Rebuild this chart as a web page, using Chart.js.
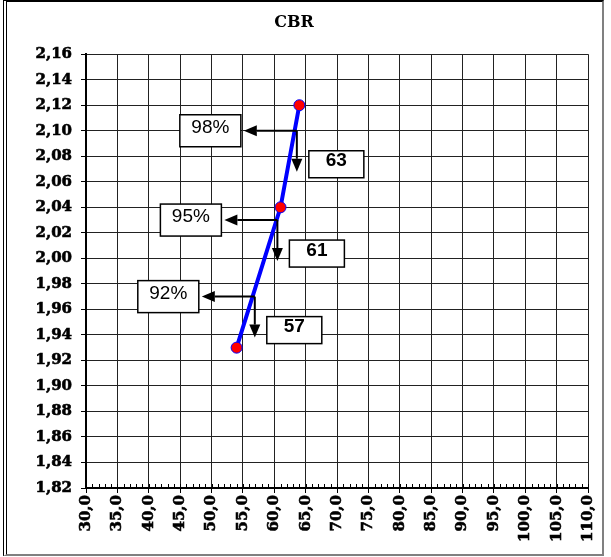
<!DOCTYPE html>
<html>
<head>
<meta charset="utf-8">
<script src="https://cdn.jsdelivr.net/npm/chart.js@4/dist/chart.umd.min.js"></script>
<style>
  body { margin: 0; background: #fff; }
  #frame {
    position: absolute; left: 3px; top: 0; width: 601px; height: 556px;
    box-sizing: border-box; pointer-events: none;
    border-top: 2px solid #000; border-left: 4px double #000;
    border-right: 2px solid #808080; border-bottom: 2px solid #808080;
  }
  #c { position: absolute; left: 0; top: 0; }
</style>
</head>
<body>
<canvas id="c" width="596" height="557"></canvas>
<div id="frame"></div>
<script>
// CBR (x) vs dry density (y)
const cbrValues = [54.0, 61.0, 64.0];
const densityValues = [1.93, 2.04, 2.12];

const xTickValues = [30, 35, 40, 45, 50, 55, 60, 65, 70, 75, 80, 85, 90, 95, 100, 105, 110];
const yTickValues = [1.82, 1.84, 1.86, 1.88, 1.90, 1.92, 1.94, 1.96, 1.98, 2.00,
                     2.02, 2.04, 2.06, 2.08, 2.10, 2.12, 2.14, 2.16];

// compaction levels
const compactionLabels = ['98%', '95%', '92%'];
const compactionDensity = [2.10, 2.03, 1.97];
const curveCbr = [63.6, 60.5, 56.9];
const cbrReadLabels = ['63', '61', '57'];

const fmt = (v, d) => Number(v).toFixed(d).replace('.', ',');
const serif = '"DejaVu Serif", "Liberation Serif", serif';

Chart.defaults.font.family = serif;
Chart.defaults.font.size = 15;
Chart.defaults.font.weight = 'bold';
Chart.defaults.color = '#000';

function arrow(ctx, x1, y1, x2, y2) {
    const ang = Math.atan2(y2 - y1, x2 - x1);
    const len = 13, half = 5.5;
    const bx = x2 - len * Math.cos(ang), by = y2 - len * Math.sin(ang);
    ctx.beginPath();
    ctx.moveTo(x1, y1);
    ctx.lineTo(bx, by);
    ctx.stroke();
    ctx.beginPath();
    ctx.moveTo(x2, y2);
    ctx.lineTo(bx - half * Math.sin(ang), by + half * Math.cos(ang));
    ctx.lineTo(bx + half * Math.sin(ang), by - half * Math.cos(ang));
    ctx.closePath();
    ctx.fill();
}

function box(ctx, left, top, w, h, text, font) {
    ctx.fillStyle = '#fff';
    ctx.strokeStyle = '#000';
    ctx.lineWidth = 1.5;
    ctx.fillRect(left, top, w, h);
    ctx.strokeRect(left, top, w, h);
    ctx.fillStyle = '#000';
    ctx.font = font;
    ctx.textAlign = 'center';
    ctx.textBaseline = 'middle';
    ctx.fillText(text, left + w / 2, top + h / 2 - 3);
}

const extras = {
    id: 'extras',
    afterDatasetsDraw(chart) {
        const { ctx, scales: { x, y } } = chart;
        ctx.save();
        // minor ticks on the x axis
        ctx.strokeStyle = '#000';
        ctx.lineWidth = 1;
        ctx.beginPath();
        for (let v = x.min; v <= x.max; v++) {
            const px = Math.round(x.getPixelForValue(v)) + 0.5;
            ctx.moveTo(px, y.bottom);
            ctx.lineTo(px, y.bottom - 4);
        }
        ctx.stroke();

        compactionLabels.forEach((label, i) => {
            const ax = x.getPixelForValue(curveCbr[i]);
            const ay = y.getPixelForValue(compactionDensity[i]);
            ctx.strokeStyle = '#000';
            ctx.fillStyle = '#000';
            ctx.lineWidth = 2;
            arrow(ctx, ax, ay, ax - 53, ay);
            arrow(ctx, ax, ay, ax, ay + 41);
            box(ctx, ax - 56 - 61, ay - 16, 61, 32, label, '19px "Liberation Sans"');
            box(ctx, ax + 12, ay + 20, 55, 27, cbrReadLabels[i], 'bold 19px "Liberation Sans"');
        });
        ctx.restore();
    }
};

new Chart(document.getElementById('c'), {
    type: 'scatter',
    data: {
        datasets: [{
            data: cbrValues.map((v, i) => ({ x: v, y: densityValues[i] })),
            showLine: true,
            borderColor: '#0000ff',
            borderWidth: 4,
            tension: 0,
            pointRadius: 5.5,
            pointBackgroundColor: '#ff0000',
            pointBorderColor: '#0000ff',
            pointBorderWidth: 1,
        }],
    },
    options: {
        responsive: false,
        animation: false,
        devicePixelRatio: 1,
        layout: { padding: { left: 0, right: 8, top: 0, bottom: 0 } },
        plugins: {
            legend: { display: false },
            tooltip: { enabled: false },
            title: {
                display: true,
                text: 'CBR',
                font: { size: 16, weight: 'bold' },
                padding: { top: 13, bottom: 22 },
            },
        },
        scales: {
            x: {
                type: 'linear',
                min: xTickValues[0],
                max: xTickValues[xTickValues.length - 1],
                afterBuildTicks: (s) => { s.ticks = xTickValues.map((v) => ({ value: v })); },
                afterFit: (s) => { s.height = 69; s.paddingLeft = 0; s.paddingRight = 0; },
                grid: { color: '#222', lineWidth: 1, tickLength: 5, tickColor: '#000' },
                border: { color: '#000', width: 2 },
                ticks: {
                    autoSkip: false,
                    minRotation: 90,
                    maxRotation: 90,
                    padding: 2,
                    font: { size: 15, weight: 'bold' },
                    textStrokeColor: '#000',
                    textStrokeWidth: 0.6,
                    callback: (v) => fmt(v, 1),
                },
            },
            y: {
                type: 'linear',
                min: yTickValues[0],
                max: yTickValues[yTickValues.length - 1],
                afterBuildTicks: (s) => { s.ticks = yTickValues.map((v) => ({ value: v })); },
                afterFit: (s) => { s.width = 86; s.paddingTop = 0; s.paddingBottom = 0; },
                grid: { color: '#222', lineWidth: 1, tickLength: 5, tickColor: '#000' },
                border: { color: '#000', width: 2 },
                ticks: {
                    padding: 9,
                    font: { size: 15, weight: 'bold' },
                    textStrokeColor: '#000',
                    textStrokeWidth: 0.6,
                    callback: (v) => fmt(v, 2),
                },
            },
        },
    },
    plugins: [extras],
});
</script>
</body>
</html>
